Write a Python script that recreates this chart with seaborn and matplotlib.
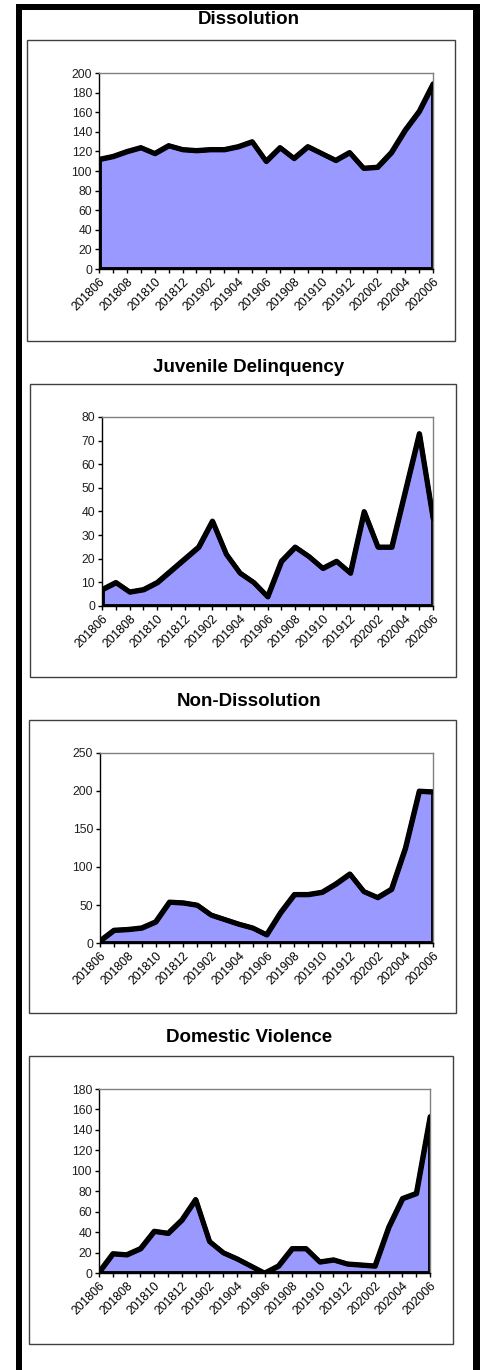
import seaborn as sns
import matplotlib.pyplot as plt
import pandas as pd
from matplotlib.patches import Rectangle

# months on the x axis
months = ["201806", "201807", "201808", "201809", "201810", "201811", "201812",
          "201901", "201902", "201903", "201904", "201905", "201906", "201907",
          "201908", "201909", "201910", "201911", "201912", "202001", "202002",
          "202003", "202004", "202005", "202006"]

dissolution = [112, 115, 120, 124, 118, 126, 122, 121, 122, 122, 125, 130, 110,
               124, 113, 125, 118, 111, 119, 103, 104, 119, 142, 161, 189]
juvenile = [7, 10, 6, 7, 10, 15, 20, 25, 36, 22, 14, 10, 4,
            19, 25, 21, 16, 19, 14, 40, 25, 25, 49, 73, 37]
non_dissolution = [3, 17, 18, 20, 28, 54, 53, 50, 37, 31, 25, 20, 11,
                   40, 64, 64, 67, 78, 91, 68, 60, 71, 125, 200, 199]
domestic = [1, 19, 18, 24, 41, 39, 52, 72, 31, 20, 14, 7, 0,
            7, 24, 24, 11, 13, 9, 8, 7, 45, 73, 78, 153]

titles = ["Dissolution", "Juvenile Delinquency", "Non-Dissolution", "Domestic Violence"]
series = [dissolution, juvenile, non_dissolution, domestic]
ymax = [200, 80, 250, 180]
ystep = [20, 10, 50, 20]

sns.set_style("white")
plt.rcParams["font.family"] = ["Liberation Sans", "DejaVu Sans"]

W, H = 480, 1370
fig = plt.figure(figsize=(W / 100, H / 100), dpi=100)

# pixel layout: plot area (x0, x1, y0, y1), panel box, title y
plot_px = [(99, 433, 73, 269), (102, 433, 417, 606), (100, 433, 753, 943), (99, 430, 1089, 1273)]
box_px = [(27, 455, 40, 341), (30, 456, 384, 677), (29, 456, 720, 1013), (29, 453, 1056, 1344)]
title_y = [20, 367, 702, 1038]

# outer thick frame (left, top, right)
fig.patches.append(Rectangle((16 / W, 0), 6 / W, 1 - 4 / H, transform=fig.transFigure,
                             facecolor="black", edgecolor="none"))
fig.patches.append(Rectangle((16 / W, 1 - 10 / H), (480 - 16) / W, 6 / H, transform=fig.transFigure,
                             facecolor="black", edgecolor="none"))
fig.patches.append(Rectangle((473 / W, 0), 7 / W, 1 - 4 / H, transform=fig.transFigure,
                             facecolor="black", edgecolor="none"))

x = list(range(len(months)))

for i in range(4):
    bx0, bx1, by0, by1 = box_px[i]
    fig.patches.append(Rectangle((bx0 / W, 1 - by1 / H), (bx1 - bx0) / W, (by1 - by0) / H,
                                 transform=fig.transFigure, facecolor="none",
                                 edgecolor="#404040", linewidth=1))
    fig.text(249 / W, 1 - title_y[i] / H, titles[i], ha="center", va="center",
             fontsize=13.5, fontweight="bold", color="black")

    px0, px1, py0, py1 = plot_px[i]
    ax = fig.add_axes([px0 / W, 1 - py1 / H, (px1 - px0) / W, (py1 - py0) / H])
    df = pd.DataFrame({"x": x, "y": series[i]})
    ax.fill_between(df["x"], 0, df["y"], facecolor="#9999FF", edgecolor="black",
                    linewidth=3.5, zorder=2)
    sns.lineplot(data=df, x="x", y="y", ax=ax, color="black", linewidth=3.5, zorder=3)

    ax.set_xlim(0, len(months) - 1)
    ax.set_ylim(0, ymax[i])
    ax.set_yticks(range(0, ymax[i] + 1, ystep[i]))
    ax.set_xticks(x)
    ax.set_xticklabels([m if k % 2 == 0 else "" for k, m in enumerate(months)],
                       rotation=45, ha="right", rotation_mode="anchor")
    ax.set_xlabel("")
    ax.set_ylabel("")
    ax.tick_params(axis="both", labelsize=8.8, length=3, width=1, direction="out",
                   colors="black", pad=2, bottom=True, left=True)
    ax.tick_params(axis="y", labelcolor="#202020")
    ax.spines["left"].set_color("black")
    ax.spines["bottom"].set_color("black")
    ax.spines["top"].set_color("#808080")
    ax.spines["right"].set_color("#808080")
    for s in ax.spines.values():
        s.set_linewidth(1)
        s.set_visible(True)

fig.savefig("out.png", dpi=100)
